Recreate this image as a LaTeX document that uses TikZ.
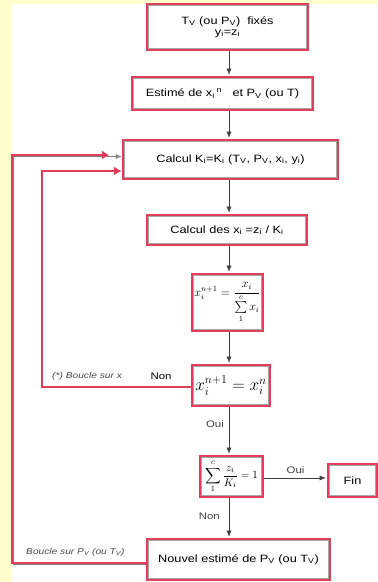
\documentclass[tikz,border=0pt]{standalone}
\usepackage{amsmath}
\usepackage{fontspec}
\setmainfont{Liberation Sans}[FakeStretch=1.2]
\usetikzlibrary{arrows.meta}
\definecolor{loopred}{RGB}{226,62,92}
\definecolor{paper}{RGB}{255,255,204}

\begin{document}
\begin{tikzpicture}[x=1pt, y=-1pt,
            stepbox/.style={rectangle, draw=loopred, line width=2.4pt, fill=white, inner sep=0pt, align=center, font=\fontsize{10.6}{13}\selectfont},
            flow/.style={-{Latex[length=6pt,width=5pt]}, black!75, shorten >=1.2pt},
            loop/.style={loopred, line width=2.4pt, line join=miter, -{Triangle[length=7pt,width=8pt]}},
            back/.style={gray, line width=0.8pt, -{Latex[length=6pt,width=5pt]}},
            note/.style={font=\fontsize{8.5}{10}\selectfont\itshape, text=black!70, inner sep=1pt},
            answer/.style={font=\fontsize{9.5}{11}\selectfont, inner sep=1pt}
        ]
            % Background
            \fill[paper] (0,0) rectangle (378,582);
            \fill[white] (12,4) rectangle (378,582);
            \useasboundingbox (0,0) rectangle (378,582);

            % Nodes
            \node[stepbox, minimum width=161pt, minimum height=46pt] (start) at (227.5,27) {T\textsubscript{V} (ou P\textsubscript{V})\ \ fixés\\[-2pt] y\textsubscript{i}=z\textsubscript{i}};
            \node[stepbox, minimum width=181pt, minimum height=33pt] (estim) at (222.5,93.5) {Estimé de x\textsubscript{i}\,\textsuperscript{n}\ \ \ et P\textsubscript{V} (ou T)};
            \node[stepbox, minimum width=215pt, minimum height=39pt] (calcK) at (230.5,159.5) {Calcul K\textsubscript{i}=K\textsubscript{i}\ (T\textsubscript{V}, P\textsubscript{V}, x\textsubscript{i}, y\textsubscript{i})};
            \node[stepbox, minimum width=160pt, minimum height=30pt] (calcx) at (227,230) {Calcul des x\textsubscript{i} =z\textsubscript{i} / K\textsubscript{i}};
            \node[stepbox, minimum width=71pt, minimum height=57pt, font=\fontsize{12}{14}\selectfont] (norm) at (227.5,302.5) {$x_i^{n+1}=\dfrac{x_i}{\sum\limits_1^{c} x_i}$};
            \node[stepbox, minimum width=78pt, minimum height=41pt, font=\fontsize{17}{19}\selectfont] (test) at (231,385.5) {$x_i^{n+1} = x_i^{n}$};
            \node[stepbox, minimum width=63pt, minimum height=41pt, font=\fontsize{11}{13}\selectfont] (sum) at (231.5,476.5) {$\displaystyle\sum_1^{c}\frac{z_i}{K_i}=1$};
            \node[stepbox, minimum width=49pt, minimum height=33pt] (fin) at (352.5,480.5) {Fin};
            \node[stepbox, minimum width=183pt, minimum height=41pt] (nouvel) at (238.5,559.5) {Nouvel estimé de P\textsubscript{V} (ou T\textsubscript{V})};

            % Inner frames
            \foreach \n in {start, estim, calcK, calcx, norm, test, sum, fin, nouvel} {
                \draw[gray!70, line width=0.7pt] ([shift={(3pt,-3pt)}]\n.north west) rectangle ([shift={(-3pt,3pt)}]\n.south east);
            }

            % Paths: main sequence
            \coordinate (axis) at (229,0);
            \draw[flow] (start.south -| axis) -- (estim.north -| axis);
            \draw[flow] (estim.south -| axis) -- (calcK.north -| axis);
            \draw[flow] (calcK.south -| axis) -- (calcx.north -| axis);
            \draw[flow] (calcx.south -| axis) -- (norm.north -| axis);
            \draw[flow] (norm.south -| axis) -- (test.north -| axis);
            \draw[flow] (test.south -| axis) -- (sum.north -| axis) node[answer, pos=0.35, left, xshift=-4pt] (oui1) {Oui};
            \draw[flow] ([yshift=-1.5pt]sum.east) -- ([yshift=-1.5pt]sum.east -| fin.west) node[answer, midway, above, yshift=3pt] (oui2) {Oui};
            \draw[flow] (sum.south -| axis) -- (nouvel.north -| axis) node[answer, pos=0.45, left, xshift=-8pt] (non2) {Non};

            % Paths: loop on x
            \coordinate (xlow) at (42,387);
            \coordinate (xhigh) at (42,171);
            \draw[back] (test.west |- xlow) -- (xlow) -- (xhigh) -- (calcK.west |- xhigh);
            \draw[loop] (test.west |- xlow) -- (xlow) -- (xhigh) -- ([xshift=-1pt]calcK.west |- xhigh);
            \node[note, anchor=west] (xnote) at (51,376) {(*) Boucle sur x};
            \node[answer] (non1) at (161,376) {Non};

            % Paths: loop on P_V
            \coordinate (plow) at (12,563);
            \coordinate (phigh) at (12,155);
            \draw[back] ([yshift=-1.5pt]nouvel.west |- plow) -- ([shift={(1.5pt,-1.5pt)}]plow) -- ([shift={(1.5pt,-1.5pt)}]phigh) -- ([yshift=-1.5pt]calcK.west |- phigh);
            \draw[loop] (nouvel.west |- plow) -- (plow) -- (phigh) -- ([xshift=-13pt]calcK.west |- phigh);
            \node[note, anchor=west] (pnote) at (25,552) {Boucle sur P\textsubscript{V} (ou T\textsubscript{V})};
        \end{tikzpicture}
\end{document}
